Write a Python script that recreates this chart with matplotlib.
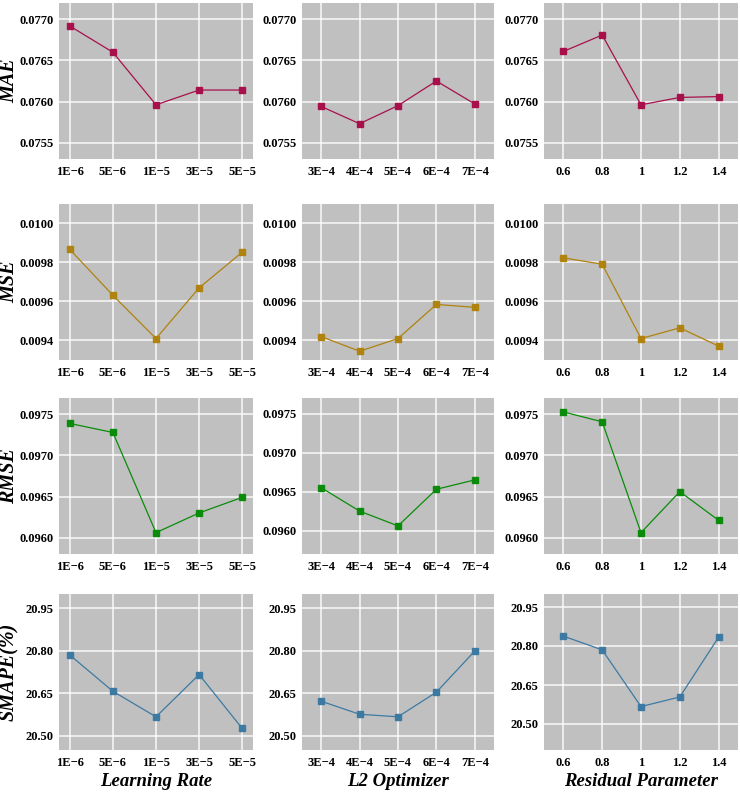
import numpy as np
import matplotlib.pyplot as plt

plt.rcParams['font.family'] = ['Liberation Serif', 'DejaVu Serif']

lr_labels = ['1E\u22126', '5E\u22126', '1E\u22125', '3E\u22125', '5E\u22125']
l2_labels = ['3E\u22124', '4E\u22124', '5E\u22124', '6E\u22124', '7E\u22124']
res_labels = ['0.6', '0.8', '1', '1.2', '1.4']

# rows: MAE, MSE, RMSE, SMAPE ; columns: learning rate, L2, residual
mae_lr = [0.07692, 0.07660, 0.07596, 0.07614, 0.07614]
mae_l2 = [0.07594, 0.07573, 0.07595, 0.07625, 0.07597]
mae_res = [0.07661, 0.07681, 0.07596, 0.07605, 0.07606]

mse_lr = [0.009867, 0.009632, 0.009410, 0.009670, 0.009853]
mse_l2 = [0.009420, 0.009345, 0.009410, 0.009585, 0.009570]
mse_res = [0.009824, 0.009791, 0.009410, 0.009465, 0.009371]

rmse_lr = [0.09739, 0.09728, 0.09606, 0.09630, 0.09649]
rmse_l2 = [0.09655, 0.09625, 0.09606, 0.09653, 0.09665]
rmse_res = [0.09753, 0.09741, 0.09606, 0.09656, 0.09621]

smape_lr = [20.785, 20.657, 20.567, 20.716, 20.526]
smape_l2 = [20.622, 20.576, 20.567, 20.654, 20.799]
smape_res = [20.838, 20.785, 20.567, 20.604, 20.834]

metric_names = ['MAE', 'MSE', 'RMSE', 'SMAPE(%)']
param_names = ['Learning Rate', 'L2 Optimizer', 'Residual Parameter']
colors = ['#a8104c', '#b0820e', '#0a8c0a', '#3d7aa3']

data = [[mae_lr, mae_l2, mae_res],
        [mse_lr, mse_l2, mse_res],
        [rmse_lr, rmse_l2, rmse_res],
        [smape_lr, smape_l2, smape_res]]
xlabels = [lr_labels, l2_labels, res_labels]

yticks = [[0.0755, 0.0760, 0.0765, 0.0770],
          [0.0094, 0.0096, 0.0098, 0.0100],
          [0.0960, 0.0965, 0.0970, 0.0975],
          [20.50, 20.65, 20.80, 20.95]]
yfmt = ['%.4f', '%.4f', '%.4f', '%.2f']
ylims = [[(0.0753, 0.0772)] * 3,
         [(0.0093, 0.0101)] * 3,
         [(0.0958, 0.0977), (0.0957, 0.0977), (0.0958, 0.0977)],
         [(20.45, 21.0), (20.45, 21.0), (20.40, 21.0)]]

W, H = 740, 794
fig = plt.figure(figsize=(W / 100, H / 100), dpi=100)

col_left = [59, 302, 544]
col_w = [194, 192, 194]
row_top = [3, 204, 398, 594]
row_h = 156

for r in range(4):
    for c in range(3):
        ax = fig.add_axes([col_left[c] / W, 1 - (row_top[r] + row_h) / H,
                           col_w[c] / W, row_h / H])
        ax.set_facecolor('#c0c0c0')
        x = np.arange(5)
        ax.plot(x, data[r][c], color=colors[r], lw=0.9, marker='s',
                markersize=4.8, zorder=3)
        ax.set_xticks(x)
        ax.set_xticklabels(xlabels[c])
        ax.set_yticks(yticks[r])
        ax.set_yticklabels([yfmt[r] % v for v in yticks[r]])
        ax.set_ylim(*ylims[r][c])
        if c == 0:
            ax.set_xlim(-0.25, 4.25)
        else:
            ax.set_xlim(-0.5, 4.5)
        ax.grid(True, color='white', lw=1.1, alpha=0.9)
        ax.set_axisbelow(True)
        for s in ax.spines.values():
            s.set_visible(False)
        ax.tick_params(length=0, labelsize=9, pad=4)
        ax.tick_params(axis='x', pad=5)
        for lab in ax.get_xticklabels() + ax.get_yticklabels():
            lab.set_fontweight('bold')
        if c == 0:
            fig.text(9 / W, 1 - (row_top[r] + row_h / 2) / H, metric_names[r],
                     rotation=90, ha='center', va='center', fontsize=14.5,
                     fontweight='bold', fontstyle='italic')

for c in range(3):
    fig.text((col_left[c] + col_w[c] / 2) / W, 1 - 782 / H, param_names[c],
             ha='center', va='center', fontsize=13.5, fontweight='bold',
             fontstyle='italic')

fig.savefig('out.png', dpi=100)
